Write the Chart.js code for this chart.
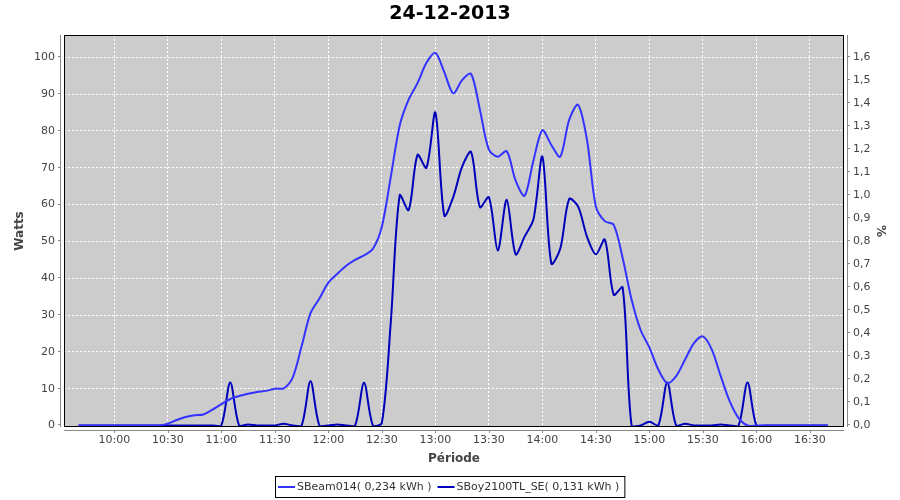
<!DOCTYPE html>
<html>
<head>
<meta charset="utf-8">
<script src="https://cdn.jsdelivr.net/npm/chart.js@4.4.0/dist/chart.umd.min.js"></script>
<style>
html,body{margin:0;padding:0;background:#fff;}
canvas{display:block;}
</style>
</head>
<body>
<canvas id="c" width="900" height="500"></canvas>
<script>
const chartTitle = '24-12-2013';
const xAxisTitle = 'Période';
const leftAxisTitle = 'Watts';
const rightAxisTitle = '%';
const seriesLabels = ['SBeam014( 0,234 kWh )', 'SBoy2100TL_SE( 0,131 kWh )'];

const times = [
 '09:40','09:45','09:50','09:55','10:00','10:05','10:10','10:15','10:20','10:25',
 '10:30','10:35','10:40','10:45','10:50','10:55','11:00','11:05','11:10','11:15',
 '11:20','11:25','11:30','11:35','11:40','11:45','11:50','11:55','12:00','12:05',
 '12:10','12:15','12:20','12:25','12:30','12:35','12:40','12:45','12:50','12:55',
 '13:00','13:05','13:10','13:15','13:20','13:25','13:30','13:35','13:40','13:45',
 '13:50','13:55','14:00','14:05','14:10','14:15','14:20','14:25','14:30','14:35',
 '14:40','14:45','14:50','14:55','15:00','15:05','15:10','15:15','15:20','15:25',
 '15:30','15:35','15:40','15:45','15:50','15:55','16:00','16:05','16:10','16:15',
 '16:20','16:25','16:30','16:35','16:40'
];

const sbeam014 = [
 0,0,0,0,0,0,0,0,0,0,
 0.5,1.5,2.3,2.8,3.0,4.3,5.8,7.2,8.0,8.6,
 9.1,9.4,10.0,10.1,13.0,21.5,30.5,34.5,38.8,41.2,
 43.4,45.0,46.2,48.0,54.0,67.5,81.5,88.5,93.0,98.5,
 101.2,96.0,90.2,93.8,95.5,85.7,74.9,73.0,74.5,66.5,
 62.4,72.0,80.2,76.2,73.0,83.0,87.1,77.6,59.5,55.5,
 54.5,45.5,34.2,26.0,21.2,15.2,11.5,13.4,17.9,22.4,
 24.2,20.6,13.4,6.6,2.0,0,0,0,0,0,
 0,0,0,0,0
];

const sboy2100 = [
 0,0,0,0,0,0,0,0,0,0,
 0,0,0,0,0,0,0,11.7,0,0.3,
 0,0,0,0.5,0,0,12.0,0,0,0.3,
 0,0,11.6,0,0.7,28.0,62.5,58.5,73.5,70.0,
 85.0,57.0,62.0,70.3,74.3,59.3,62.0,47.5,61.3,46.5,
 51.3,56.0,73.0,44.0,48.0,61.5,59.5,51.3,46.5,50.5,
 35.5,37.5,0,0,1.0,0,11.7,0,0.5,0,
 0,0,0.3,0,0,11.7,0,0,0,0,
 0,0,0,0,0
];

const xTickLabels = ['10:00','10:30','11:00','11:30','12:00','12:30','13:00','13:30','14:00','14:30','15:00','15:30','16:00','16:30'];
const wattTicks = [0,10,20,30,40,50,60,70,80,90,100];
const pctTicks = [0,0.1,0.2,0.3,0.4,0.5,0.6,0.7,0.8,0.9,1.0,1.1,1.2,1.3,1.4,1.5,1.6];
const xMinLabel = '09:31.8';
const xMaxLabel = '16:49.1';
const wattMin = -0.41;
const wattMax = 106.06;
const pctMin = -0.0066;
const pctMax = 1.697;

function toMin(s){ const p = s.split(':'); return parseInt(p[0],10)*60 + parseFloat(p[1]); }
function fmtMin(v){ const h = Math.floor(v/60), m = Math.round(v - h*60); return String(h).padStart(2,'0') + ':' + String(m).padStart(2,'0'); }

const FONT = "'DejaVu Sans', sans-serif";
const colors = ['#3333ff', '#0000bb'];

const framePlugin = {
  id: 'frame',
  beforeDraw(chart){
    const {ctx, chartArea: a} = chart;
    ctx.save();
    ctx.fillStyle = '#ffffff';
    ctx.fillRect(0, 0, chart.width, chart.height);
    ctx.fillStyle = '#cccccc';
    ctx.fillRect(a.left, a.top, a.right - a.left, a.bottom - a.top);
    ctx.restore();
  },
  afterDatasetsDraw(chart){
    const {ctx, chartArea: a, scales} = chart;
    ctx.save();
    ctx.lineWidth = 1;
    ctx.strokeStyle = '#000000';
    ctx.strokeRect(a.left + 0.5, a.top + 0.5, a.right - a.left - 1, a.bottom - a.top - 1);
    ctx.strokeStyle = '#888888';
    ctx.beginPath();
    const lx = a.left - 3.5;
    ctx.moveTo(lx, a.top); ctx.lineTo(lx, a.bottom);
    scales.y.ticks.forEach(t => { const y = Math.round(scales.y.getPixelForValue(t.value)) - 0.5; ctx.moveTo(lx - 2.5, y); ctx.lineTo(lx, y); });
    const rx = a.right + 3.5;
    ctx.moveTo(rx, a.top); ctx.lineTo(rx, a.bottom);
    scales.y2.ticks.forEach(t => { const y = Math.round(scales.y2.getPixelForValue(t.value)) - 0.5; ctx.moveTo(rx, y); ctx.lineTo(rx + 2.5, y); });
    const by = a.bottom + 3.5;
    ctx.moveTo(a.left, by); ctx.lineTo(a.right, by);
    scales.x.ticks.forEach(t => { const x = Math.round(scales.x.getPixelForValue(t.value)) + 0.5; ctx.moveTo(x, by); ctx.lineTo(x, by + 2.5); });
    ctx.stroke();
    ctx.restore();
  },
  afterDraw(chart){
    const ctx = chart.ctx;
    ctx.save();
    ctx.font = "11px " + FONT;
    const w = seriesLabels.map(s => ctx.measureText(s).width);
    const lineLen = 17, gapA = 2, gapB = 6, padL = 3, padR = 5;
    const total = padL + lineLen + gapA + w[0] + gapB + lineLen + gapA + w[1] + padR;
    const left = Math.round(chart.width / 2 - total / 2);
    const top = 476, h = 21;
    ctx.strokeStyle = '#000';
    ctx.lineWidth = 1;
    ctx.strokeRect(left + 0.5, top + 0.5, total, h);
    let x = left + padL;
    const cy = top + h / 2 + 0.5;
    for (let i = 0; i < seriesLabels.length; i++) {
      ctx.strokeStyle = colors[i];
      ctx.lineWidth = 2;
      ctx.beginPath(); ctx.moveTo(x, cy); ctx.lineTo(x + lineLen, cy); ctx.stroke();
      x += lineLen + gapA;
      ctx.fillStyle = '#333333';
      ctx.textBaseline = 'middle';
      ctx.textAlign = 'left';
      ctx.fillText(seriesLabels[i], x, cy + 0.5);
      x += w[i] + gapB;
    }
    ctx.restore();
  }
};

const tmins = times.map(toMin);
const mk = arr => arr.map((v, i) => ({x: tmins[i], y: v}));

new Chart(document.getElementById('c'), {
  type: 'line',
  data: {
    datasets: [
      { label: seriesLabels[0], data: mk(sbeam014), borderColor: colors[0], backgroundColor: colors[0], borderWidth: 2, pointRadius: 0, tension: 0.3, fill: false, yAxisID: 'y' },
      { label: seriesLabels[1], data: mk(sboy2100), borderColor: colors[1], backgroundColor: colors[1], borderWidth: 2, pointRadius: 0, tension: 0.3, fill: false, yAxisID: 'y' }
    ]
  },
  options: {
    responsive: false,
    animation: false,
    devicePixelRatio: 1,
    layout: { padding: 0 },
    plugins: {
      legend: { display: false },
      tooltip: { enabled: false },
      title: { display: true, text: chartTitle, color: '#000', font: { family: FONT, size: 19, weight: 'bold' }, padding: { top: 2.6, bottom: 9.6 } }
    },
    scales: {
      x: {
        type: 'linear', position: 'bottom', min: toMin(xMinLabel), max: toMin(xMaxLabel),
        afterFit: s => { s.height = 73; },
        afterBuildTicks: s => { s.ticks = xTickLabels.map(l => ({ value: toMin(l) })); },
        ticks: { callback: v => fmtMin(v), autoSkip: false, maxRotation: 0, color: '#444', font: { family: FONT, size: 11 }, padding: 7 },
        grid: { color: '#ffffff', lineWidth: 1, drawTicks: false },
        border: { display: false, dash: [2, 2] },
        title: { display: true, text: xAxisTitle, color: '#444', font: { family: FONT, size: 12, weight: 'bold' }, padding: { top: 0, bottom: 33.8 } }
      },
      y: {
        type: 'linear', position: 'left', min: wattMin, max: wattMax,
        afterFit: s => { s.width = 64; },
        afterBuildTicks: s => { s.ticks = wattTicks.map(v => ({ value: v })); },
        ticks: { color: '#444', font: { family: FONT, size: 11 }, padding: 9 },
        grid: { color: ctx => (ctx.tick && ctx.tick.value === 0 ? 'rgba(0,0,0,0)' : '#ffffff'), lineWidth: 1, drawTicks: false },
        border: { display: false, dash: [2, 2] },
        title: { display: true, text: leftAxisTitle, color: '#444', font: { family: FONT, size: 12, weight: 'bold' }, padding: { top: 12.8, bottom: 0 } }
      },
      y2: {
        type: 'linear', position: 'right', min: pctMin, max: pctMax,
        afterFit: s => { s.width = 56; },
        afterBuildTicks: s => { s.ticks = pctTicks.map(v => ({ value: v })); },
        ticks: { callback: v => v.toFixed(1).replace('.', ','), color: '#444', font: { family: FONT, size: 11 }, padding: 9 },
        grid: { display: false, drawTicks: false },
        border: { display: false },
        title: { display: true, text: rightAxisTitle, color: '#444', font: { family: FONT, size: 12, weight: 'bold' }, padding: { top: 12.8, bottom: 0 } }
      }
    }
  },
  plugins: [framePlugin]
});
</script>
</body>
</html>
